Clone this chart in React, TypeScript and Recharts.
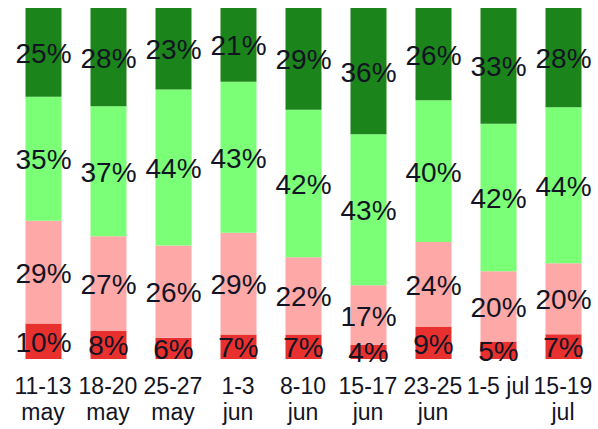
import { BarChart, Bar, XAxis, YAxis, LabelList } from 'recharts'

const DATES = ['11-13', '18-20', '25-27', '1-3', '8-10', '15-17', '23-25', '1-5 jul', '15-19']
const MONTHS = ['may', 'may', 'may', 'jun', 'jun', 'jun', 'jun', '', 'jul']

const RED = [10, 8, 6, 7, 7, 4, 9, 5, 7]
const PINK = [29, 27, 26, 29, 22, 17, 24, 20, 20]
const LIGHT_GREEN = [35, 37, 44, 43, 42, 43, 40, 42, 44]
const DARK_GREEN = [25, 28, 23, 21, 29, 36, 26, 33, 28]

const SERIES = [
  { key: 'red', values: RED, color: '#e8302f' },
  { key: 'pink', values: PINK, color: '#ffa8a8' },
  { key: 'lgreen', values: LIGHT_GREEN, color: '#7aff76' },
  { key: 'dgreen', values: DARK_GREEN, color: '#1b841a' },
]

const data = DATES.map((d, i) => ({
  name: d,
  month: MONTHS[i],
  red: RED[i],
  pink: PINK[i],
  lgreen: LIGHT_GREEN[i],
  dgreen: DARK_GREEN[i],
}))

const FONT = '"Liberation Sans", Arial, sans-serif'
const TEXT = '#121424'

function makeLabel(values: number[]) {
  return (props: any) => {
    const { x, y, width, height, index } = props
    return (
      <text
        x={Number(x) + Number(width) / 2}
        y={Number(y) + Number(height) / 2 + 1}
        textAnchor="middle"
        dominantBaseline="central"
        fontSize={28}
        fontFamily={FONT}
        fill={TEXT}
      >
        {values[index]}%
      </text>
    )
  }
}

function Tick(props: any) {
  const { x, y, payload, index } = props
  return (
    <g>
      <text x={x} y={y + 27} textAnchor="middle" fontSize={23} fontFamily={FONT} fill={TEXT}>
        {payload.value}
      </text>
      <text x={x} y={y + 53} textAnchor="middle" fontSize={23} fontFamily={FONT} fill={TEXT}>
        {MONTHS[index]}
      </text>
    </g>
  )
}

export default function App() {
  return (
    <div style={{ position: 'absolute', left: 0, top: 0, background: '#fff' }}>
      <BarChart
        width={598}
        height={429}
        data={data}
        stackOffset="expand"
        barSize={36}
        margin={{ top: 8, right: 2.5, bottom: 0, left: 10.5 }}
      >
        <XAxis dataKey="name" axisLine={false} tickLine={false} interval={0} height={70} tick={<Tick />} />
        <YAxis hide domain={[0, 1]} />
        {SERIES.map(s => (
          <Bar key={s.key} dataKey={s.key} stackId="a" fill={s.color} isAnimationActive={false}>
            <LabelList dataKey={s.key} content={makeLabel(s.values)} />
          </Bar>
        ))}
      </BarChart>
    </div>
  )
}
